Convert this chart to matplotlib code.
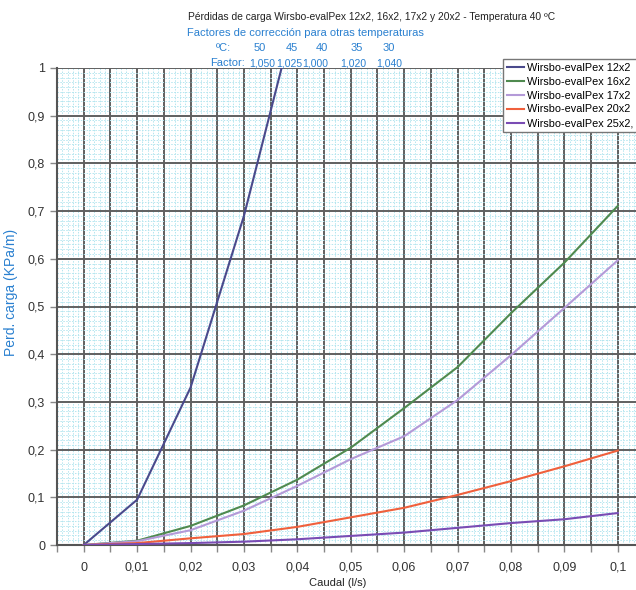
import matplotlib.pyplot as plt
from matplotlib.ticker import MultipleLocator
import numpy as np

# caudal (l/s) and pressure loss (KPa/m) per pipe size
caudal = [0, 0.01, 0.02, 0.03, 0.04, 0.05, 0.06, 0.07, 0.08, 0.09, 0.1]
perd_12x2 = [0, 0.095, 0.33, 0.69, 1.13]
perd_16x2 = [0, 0.009, 0.04, 0.083, 0.137, 0.204, 0.287, 0.373, 0.486, 0.592, 0.711]
perd_17x2 = [0, 0.008, 0.031, 0.072, 0.124, 0.18, 0.228, 0.304, 0.398, 0.497, 0.597]
perd_20x2 = [0, 0.004, 0.014, 0.023, 0.038, 0.058, 0.078, 0.105, 0.134, 0.165, 0.198]
perd_25x2 = [0, 0.002, 0.004, 0.007, 0.012, 0.019, 0.026, 0.036, 0.046, 0.054, 0.067]

series_names = ['Wirsbo-evalPex 12x2', 'Wirsbo-evalPex 16x2', 'Wirsbo-evalPex 17x2',
                'Wirsbo-evalPex 20x2', 'Wirsbo-evalPex 25x2,']
colors = ['#4a4a8c', '#4f8a4f', '#b49ad8', '#f0603c', '#7a4cb4']

temps = ['50', '45', '40', '35', '30']
factors = ['1,050', '1,025', '1,000', '1,020', '1,040']

x_ticks = [0, 0.01, 0.02, 0.03, 0.04, 0.05, 0.06, 0.07, 0.08, 0.09, 0.1]
x_labels = ['0', '0,01', '0,02', '0,03', '0,04', '0,05', '0,06', '0,07', '0,08', '0,09', '0,1']
y_ticks = [0, 0.1, 0.2, 0.3, 0.4, 0.5, 0.6, 0.7, 0.8, 0.9, 1]
y_labels = ['0', '0,1', '0,2', '0,3', '0,4', '0,5', '0,6', '0,7', '0,8', '0,9', '1']

plt.rcParams['font.family'] = ['Liberation Sans', 'DejaVu Sans']
blue = '#2a80d0'

fig = plt.figure(figsize=(6.36, 5.9), dpi=100)
ax = fig.add_axes([57 / 636, 45 / 590, 1 - 57 / 636, (545 - 68) / 590])

all_y = [perd_12x2, perd_16x2, perd_17x2, perd_20x2, perd_25x2]
for ys, name, c in zip(all_y, series_names, colors):
    ax.plot(caudal[:len(ys)], ys, color=c, lw=1.5, label=name, zorder=3)

ax.set_xlim(-0.005, 0.1034)
ax.set_ylim(0, 1)

# grid: dark major lines, dotted cyan minor
ax.xaxis.set_minor_locator(MultipleLocator(0.001))
ax.yaxis.set_minor_locator(MultipleLocator(0.01))
ax.grid(which='minor', color='#b4e6ef', lw=0.7, ls=(0, (1.5, 1.5)), zorder=0)
ax.grid(which='major', color='#606060', lw=1.4, zorder=1)

ax.set_xticks(np.round(np.arange(-0.005, 0.1001, 0.005), 3))
lab = []
for v in ax.get_xticks():
    match = [l for t, l in zip(x_ticks, x_labels) if abs(t - v) < 1e-6]
    lab.append(match[0] if match else '')
ax.set_xticklabels(lab)
ax.set_yticks(y_ticks)
ax.set_yticklabels(y_labels)
ax.tick_params(which='major', length=5, width=1, color='#888888', labelsize=9, labelcolor='#333333')
ax.tick_params(which='minor', length=0)
ax.tick_params(axis='x', pad=7)

for s in ['top', 'right']:
    ax.spines[s].set_visible(False)
for s in ['left', 'bottom']:
    ax.spines[s].set_color('#555555')
    ax.spines[s].set_linewidth(1.5)

ax.set_xlabel('Caudal (l/s)', fontsize=8, color='#222222')
ax.xaxis.set_label_coords(0.485, -0.069)
ax.set_ylabel('Perd. carga (KPa/m)', fontsize=10, color=blue)
ax.yaxis.set_label_coords(-0.068, 0.53)

leg = ax.legend(loc='upper left', bbox_to_anchor=(503 / 636, 1 - 59 / 590),
                bbox_transform=fig.transFigure, fontsize=7.8, frameon=True, fancybox=False,
                handlelength=1.6, handletextpad=0.3, borderpad=0.35, labelspacing=0.36,
                borderaxespad=0)
leg.get_frame().set_edgecolor('#777777')
leg.get_frame().set_linewidth(1.0)
leg.get_frame().set_alpha(1)

# titles
fig.text(372 / 636, 1 - 17 / 590, 'Pérdidas de carga Wirsbo-evalPex 12x2, 16x2, 17x2 y 20x2 - Temperatura 40 ºC',
         ha='center', va='center', fontsize=7.4, color='#222222')
fig.text(305 / 636, 1 - 33 / 590, 'Factores de corrección para otras temperaturas',
         ha='center', va='center', fontsize=8, color=blue)
temp_x = [260, 292, 322, 357, 389]
fact_x = [262, 289, 315, 353, 389]
fig.text(223 / 636, 1 - 48 / 590, 'ºC:', ha='center', va='center', fontsize=8, color=blue)
fig.text(228 / 636, 1 - 63 / 590, 'Factor:', ha='center', va='center', fontsize=8, color=blue)
for t, f, tx, fx in zip(temps, factors, temp_x, fact_x):
    fig.text(tx / 636, 1 - 48 / 590, t, ha='center', va='center', fontsize=8, color=blue)
    fig.text(fx / 636, 1 - 63 / 590, f, ha='center', va='center', fontsize=7.5, color=blue)

fig.savefig('out.png', dpi=100)
